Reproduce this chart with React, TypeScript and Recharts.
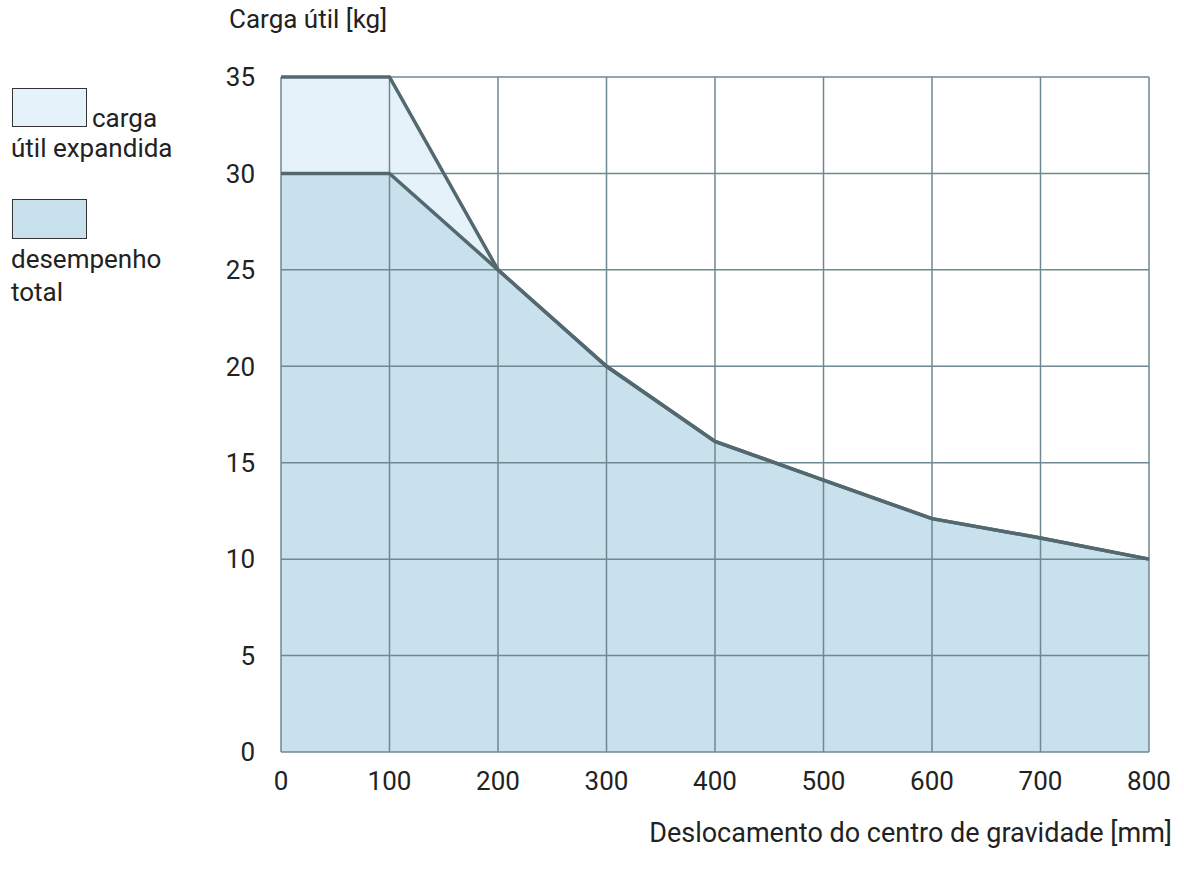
import React from 'react';
import { ComposedChart, Area, Line, XAxis, YAxis, ReferenceLine } from 'recharts';

const offsets = [0, 100, 200, 300, 400, 500, 600, 700, 800];
const expandedLoad = [35, 35, 25, 20, 16.1, 14.1, 12.1, 11.1, 10];
const totalLoad = [30, 30, 25, 20, 16.1, 14.1, 12.1, 11.1, 10];
const yTicks = [0, 5, 10, 15, 20, 25, 30, 35];

const yAxisTitle = 'Carga útil [kg]';
const xAxisTitle = 'Deslocamento do centro de gravidade [mm]';

const data = offsets.map((x, i) => ({ x, expanded: expandedLoad[i], total: totalLoad[i] }));

const FONT = 'Roboto, "Noto Sans", sans-serif';
const FS = 26;
const TEXT = '#222222';
const FILL_EXP = '#e6f2f9';
const FILL_TOT = '#c9e0ed';
const GRID = '#6f8990';
const LINE = '#53686f';

const txt = (left: number, top: number, s: string, extra: React.CSSProperties = {}) => (
  <div style={{ position: 'absolute', left, top, fontFamily: FONT, fontSize: FS, lineHeight: FS + 'px', color: TEXT, whiteSpace: 'nowrap', ...extra }}>{s}</div>
);

export default function App() {
  return (
    <div style={{ position: 'absolute', left: 0, top: 0, width: 1184, height: 877, background: '#fff', overflow: 'hidden' }}>
      <ComposedChart width={1184} height={877} data={data} margin={{ top: 77, right: 35, bottom: 85, left: 221 }}>
        <XAxis
          dataKey="x"
          type="number"
          domain={[0, 800]}
          ticks={offsets}
          axisLine={false}
          tickLine={false}
          tickSize={0}
          tickMargin={20}
          height={40}
          tick={{ fontSize: FS, fill: TEXT, fontFamily: FONT }}
        />
        <YAxis
          type="number"
          domain={[0, 35]}
          ticks={yTicks}
          axisLine={false}
          tickLine={false}
          tickSize={0}
          tickMargin={26}
          width={60}
          tick={{ fontSize: FS, fill: TEXT, fontFamily: FONT }}
        />
        <Area type="linear" dataKey="expanded" stroke="none" fill={FILL_EXP} fillOpacity={1} isAnimationActive={false} />
        <Area type="linear" dataKey="total" stroke="none" fill={FILL_TOT} fillOpacity={1} isAnimationActive={false} />
        {offsets.map((v) => (
          <ReferenceLine key={'x' + v} x={v} stroke={GRID} strokeWidth={1.5} />
        ))}
        {yTicks.map((v) => (
          <ReferenceLine key={'y' + v} y={v} stroke={GRID} strokeWidth={1.5} />
        ))}
        <Line type="linear" dataKey="expanded" stroke={LINE} strokeWidth={3.5} dot={false} activeDot={false} isAnimationActive={false} />
        <Line type="linear" dataKey="total" stroke={LINE} strokeWidth={3.5} dot={false} activeDot={false} isAnimationActive={false} />
      </ComposedChart>

      {txt(229, 6, yAxisTitle)}
      <div style={{ position: 'absolute', right: 12, top: 820, fontFamily: FONT, fontSize: 27, lineHeight: '27px', color: TEXT, whiteSpace: 'nowrap' }}>{xAxisTitle}</div>

      <div style={{ position: 'absolute', left: 12, top: 88, width: 75, height: 39, boxSizing: 'border-box', border: '1.5px solid #333', background: FILL_EXP }} />
      {txt(92, 105, 'carga')}
      {txt(11, 135, 'útil expandida')}
      <div style={{ position: 'absolute', left: 12, top: 199, width: 75, height: 40, boxSizing: 'border-box', border: '1.5px solid #333', background: FILL_TOT }} />
      {txt(11, 246, 'desempenho')}
      {txt(11, 279, 'total')}
    </div>
  );
}
